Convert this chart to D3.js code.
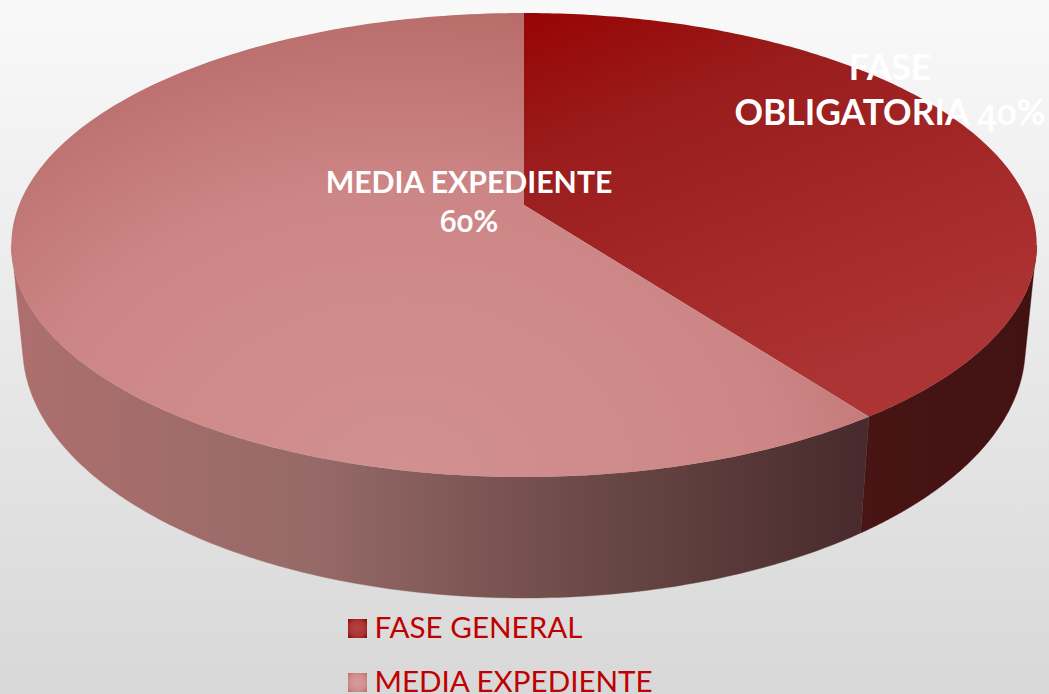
<!DOCTYPE html>
<html><head><meta charset="utf-8">
<script src="https://cdn.jsdelivr.net/npm/d3@7"></script>
<style>
html,body{margin:0;padding:0;background:#eee;overflow:hidden}
svg{display:block}
text{font-family:Lato,"Open Sans",sans-serif}
tspan.num{font-family:"Open Sans","Noto Sans",sans-serif;font-weight:600;font-feature-settings:"onum" 1;font-variant-numeric:oldstyle-nums}
</style></head><body>
<script>
const categories = ["FASE GENERAL", "MEDIA EXPEDIENTE"];
const sliceLabels = [["FASE", "OBLIGATORIA 40%"], ["MEDIA EXPEDIENTE", "60%"]];
const values = [40, 60];

const W = 1049, H = 694;
const svg = d3.select("body").append("svg").attr("width", W).attr("height", H);
const defs = svg.append("defs");

function grad(kind, id, attrs, stops){
  const g = defs.append(kind).attr("id", id).attr("gradientUnits", "userSpaceOnUse");
  Object.entries(attrs).forEach(([k,v]) => g.attr(k, v));
  stops.forEach(([o,c]) => g.append("stop").attr("offset", o).attr("stop-color", c));
}
grad("linearGradient","bg",{x1:0,y1:0,x2:0,y2:H},[[0,"#f9f9f9"],[1,"#d8d8d8"]]);
grad("linearGradient","topRed",{x1:524,y1:13,x2:690,y2:440},[[0,"#980404"],[0.3,"#9a1c1c"],[1,"#ad3434"]]);
grad("radialGradient","topPink",{cx:400,cy:480,r:480,gradientTransform:"translate(400 480) scale(1.3 1) translate(-400 -480)"},[[0,"#d29090"],[0.6,"#cd8686"],[1,"#b86c6a"]]);
grad("linearGradient","sidePink",{x1:15,y1:0,x2:868,y2:0},[[0,"#ad6f6d"],[0.35,"#966a68"],[0.7,"#684644"],[1,"#482a2c"]]);
grad("linearGradient","sideRed",{x1:862,y1:0,x2:1036,y2:0},[[0,"#481414"],[1,"#421212"]]);
grad("radialGradient","keyRed",{cx:357.5,cy:628.5,r:13},[[0,"#b84040"],[0.6,"#ac3434"],[1,"#8c0a0a"]]);
grad("radialGradient","keyPink",{cx:357.5,cy:682.5,r:13},[[0,"#da9a9a"],[0.6,"#d28e8e"],[1,"#bd7070"]]);

svg.append("rect").attr("width",W).attr("height",H).attr("fill","url(#bg)");

// perspective rims: a = clockwise angle from the back of the disc
function rim(p){ return a => {
  const X = Math.sin(a), Y = -Math.cos(a), d = 1 + p.k*Y;
  return [p.cx + p.b*X/d, p.cy + p.a*Y/d];
};}
const topRim = rim({cx:524, cy:205, a:225.1, b:505, k:-0.1724});
const botRim = rim({cx:524, cy:304.5, a:243.6, b:494, k:-0.17});

const arcs = d3.pie().sort(null)(values);
const line = d3.line();
const samples = (a0,a1) => d3.range(0,181).map(i => a0+(a1-a0)*i/180);
const fills = [["url(#topRed)","url(#sideRed)"],["url(#topPink)","url(#sidePink)"]];

// silhouette: widest point of the top rim joined to its tangent point on the bottom rim
const grid = d3.range(0,2000).map(i => i/2000*2*Math.PI);
const rightTop = d3.greatest(grid, a => topRim(a)[0]);
const leftTop  = d3.least(grid, a => topRim(a)[0]);
const rightBot = d3.greatest(grid.filter(a => a<Math.PI), a => {
  const q = botRim(a), t = topRim(rightTop);
  return (q[0]-t[0])/(q[1]-t[1]+1e-6) * (q[1]>t[1]?1:-1e6);
});
const leftBot = d3.least(grid.filter(a => a>Math.PI), a => {
  const q = botRim(a), t = topRim(leftTop);
  return (q[0]-t[0])/(q[1]-t[1]+1e-6) * (q[1]>t[1]?1:-1e6);
});

const g = svg.append("g");
arcs.forEach((d,i) => {
  const t0 = Math.max(d.startAngle, rightTop), t1 = Math.min(d.endAngle, leftTop);
  const b0 = Math.max(d.startAngle, rightBot), b1 = Math.min(d.endAngle, leftBot);
  const pts = samples(t0,t1).map(topRim).concat(samples(b0,b1).reverse().map(botRim));
  g.append("path").attr("d", line(pts)+"Z")
    .attr("fill", fills[i][1]).attr("stroke", fills[i][1]).attr("stroke-width",0.4);
});
arcs.forEach((d,i) => {
  const s = samples(d.startAngle,d.endAngle);
  g.append("path")
    .attr("d", line([[524,205]].concat(s.map(topRim)))+"Z")
    .attr("fill", fills[i][0]);
});

// labels
const labelPos = [[890,[79.5,125]],[469,[193,232]]];
sliceLabels.forEach((lines,i) => {
  lines.forEach((t,j) => {
    const el = svg.append("text").attr("x",labelPos[i][0]).attr("y",labelPos[i][1][j])
      .attr("text-anchor","middle").attr("font-size",i==0?35.4:30.2).attr("font-weight",700)
      .attr("fill","#fff");
    t.split(/(\d+)/).forEach(part => {
      if(part) el.append("tspan").classed("num",/\d/.test(part)).text(part);
    });
  });
});

// legend
const legendY = d3.scalePoint().domain(categories).range([628,682]);
const keys = ["url(#keyRed)","url(#keyPink)"];
categories.forEach((c,i) => {
  const y = legendY(c);
  svg.append("rect").attr("x",348).attr("y",y-9).attr("width",19).attr("height",19).attr("fill",keys[i]);
  svg.append("text").attr("x",374.5).attr("y",y+10).attr("font-size",29.6).attr("fill","#c00000").text(c);
});
</script>
</body></html>
